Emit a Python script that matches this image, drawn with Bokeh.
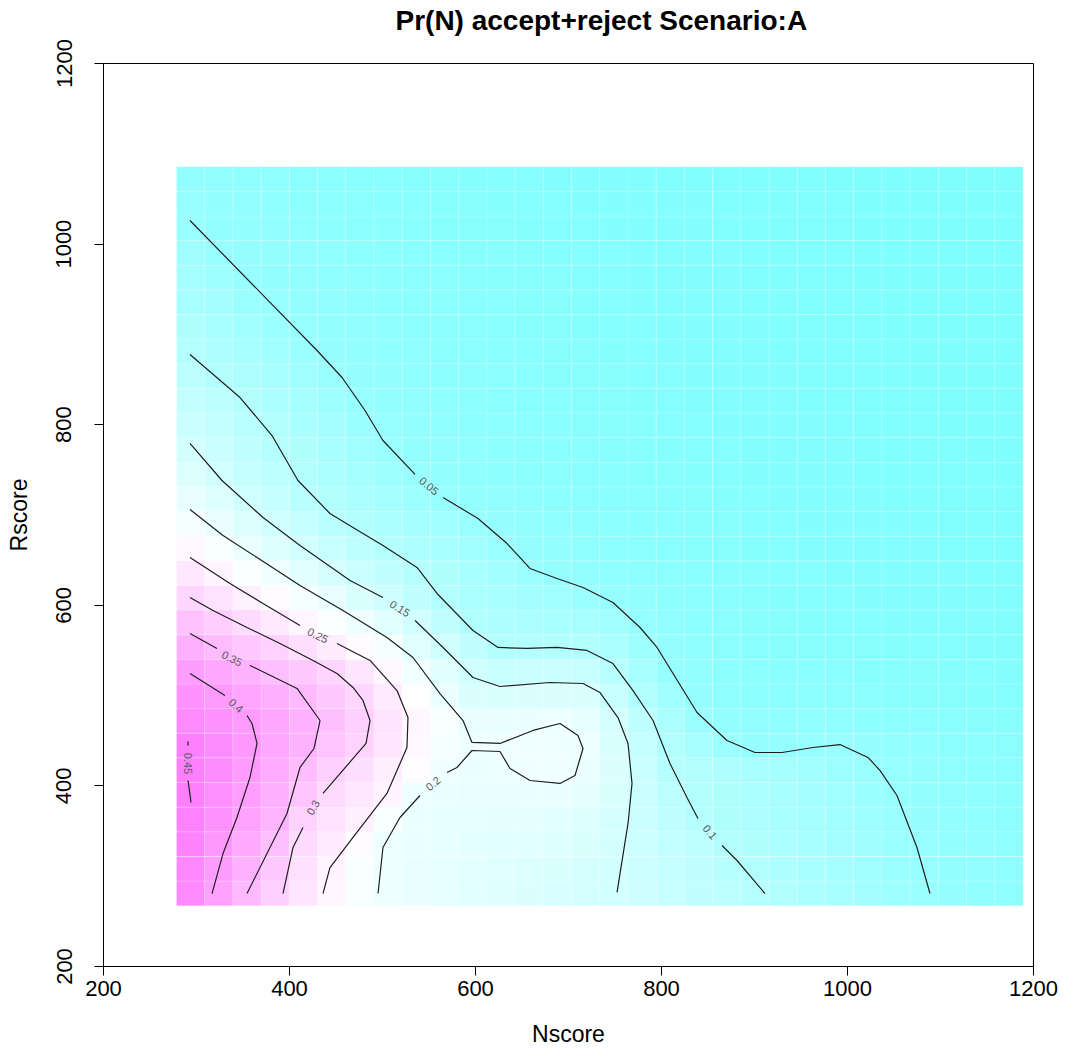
import math
import colorsys
from bokeh.plotting import figure
from bokeh.models import LinearColorMapper, FixedTicker, ColumnDataSource, Title
from bokeh.transform import transform
from bokeh.embed import file_html
from bokeh.resources import INLINE
from bokeh.core.properties import value

NAN = float("nan")

# ---- grid (cell centres) ----
NSCORE = [293.7, 324.0, 354.4, 384.7, 415.1, 445.4, 475.7, 506.1, 536.4, 566.8,
          597.1, 627.4, 657.8, 688.1, 718.5, 748.8, 779.1, 809.5, 839.8, 870.2,
          900.5, 930.8, 961.2, 991.5, 1021.9, 1052.2, 1082.5, 1112.9, 1143.2, 1173.6]
RSCORE = [281.0, 308.3, 335.6, 362.8, 390.1, 417.4, 444.7, 472.0, 499.2, 526.5,
          553.8, 581.1, 608.4, 635.6, 662.9, 690.2, 717.5, 744.8, 772.0, 799.3,
          826.6, 853.9, 881.2, 908.4, 935.7, 963.0, 990.3, 1017.6, 1044.8, 1072.1]

# ---- Pr(N), one row per Rscore value (bottom to top) ----
PROB = [
 [0.432,0.390,0.349,0.310,0.274,0.242,0.216,0.198,0.192,0.186,0.180,0.174,0.168,0.162,0.156,0.151,0.142,0.132,0.122,0.113,0.104,0.094,0.086,0.078,0.069,0.060,0.052,0.045,0.040,0.036],
 [0.438,0.400,0.364,0.322,0.282,0.247,0.220,0.198,0.192,0.187,0.181,0.175,0.169,0.163,0.157,0.151,0.141,0.130,0.118,0.107,0.097,0.089,0.081,0.073,0.065,0.058,0.050,0.044,0.039,0.035],
 [0.444,0.410,0.377,0.342,0.292,0.265,0.234,0.199,0.193,0.188,0.182,0.179,0.177,0.172,0.164,0.155,0.141,0.126,0.111,0.098,0.091,0.084,0.077,0.070,0.062,0.055,0.048,0.043,0.038,0.034],
 [0.448,0.418,0.388,0.359,0.309,0.279,0.256,0.217,0.196,0.190,0.186,0.185,0.185,0.180,0.170,0.157,0.140,0.120,0.100,0.093,0.087,0.080,0.073,0.066,0.059,0.052,0.046,0.041,0.037,0.033],
 [0.451,0.424,0.397,0.367,0.331,0.292,0.270,0.247,0.201,0.193,0.192,0.192,0.194,0.195,0.185,0.165,0.140,0.114,0.097,0.090,0.084,0.077,0.070,0.064,0.057,0.050,0.044,0.039,0.035,0.032],
 [0.452,0.428,0.403,0.375,0.345,0.312,0.284,0.258,0.231,0.203,0.197,0.198,0.203,0.204,0.197,0.168,0.137,0.103,0.094,0.087,0.080,0.073,0.067,0.060,0.053,0.047,0.042,0.037,0.033,0.030],
 [0.451,0.429,0.407,0.384,0.360,0.332,0.304,0.272,0.240,0.215,0.201,0.202,0.204,0.204,0.199,0.166,0.130,0.095,0.076,0.058,0.046,0.046,0.048,0.050,0.045,0.040,0.037,0.033,0.030,0.028],
 [0.434,0.418,0.402,0.382,0.362,0.338,0.310,0.276,0.242,0.217,0.192,0.194,0.197,0.199,0.190,0.156,0.117,0.083,0.057,0.044,0.038,0.036,0.036,0.036,0.033,0.030,0.027,0.025,0.023,0.021],
 [0.417,0.404,0.386,0.368,0.349,0.324,0.300,0.264,0.230,0.197,0.168,0.163,0.167,0.168,0.164,0.134,0.095,0.066,0.045,0.037,0.032,0.030,0.029,0.029,0.027,0.025,0.023,0.021,0.019,0.018],
 [0.399,0.380,0.361,0.342,0.322,0.302,0.272,0.241,0.208,0.176,0.147,0.132,0.135,0.135,0.133,0.107,0.079,0.051,0.040,0.033,0.029,0.026,0.025,0.024,0.023,0.022,0.020,0.019,0.017,0.016],
 [0.367,0.347,0.327,0.308,0.285,0.260,0.235,0.210,0.179,0.148,0.122,0.098,0.098,0.098,0.095,0.086,0.061,0.045,0.036,0.030,0.026,0.023,0.022,0.021,0.020,0.019,0.018,0.017,0.016,0.015],
 [0.335,0.314,0.291,0.267,0.244,0.222,0.202,0.177,0.150,0.121,0.096,0.088,0.084,0.082,0.077,0.066,0.047,0.038,0.031,0.027,0.023,0.021,0.019,0.018,0.017,0.016,0.015,0.015,0.014,0.013],
 [0.300,0.278,0.255,0.234,0.213,0.191,0.166,0.143,0.120,0.098,0.086,0.077,0.069,0.064,0.057,0.046,0.040,0.033,0.028,0.024,0.021,0.019,0.018,0.017,0.016,0.015,0.014,0.013,0.013,0.012],
 [0.269,0.246,0.224,0.204,0.180,0.156,0.137,0.120,0.103,0.090,0.079,0.067,0.055,0.046,0.040,0.036,0.032,0.028,0.025,0.022,0.020,0.018,0.017,0.016,0.015,0.014,0.013,0.013,0.012,0.011],
 [0.240,0.219,0.196,0.173,0.150,0.133,0.116,0.100,0.088,0.077,0.066,0.054,0.046,0.041,0.036,0.032,0.029,0.026,0.023,0.021,0.019,0.017,0.016,0.015,0.014,0.013,0.013,0.012,0.011,0.011],
 [0.215,0.192,0.169,0.147,0.129,0.110,0.095,0.085,0.075,0.064,0.054,0.046,0.040,0.036,0.032,0.029,0.026,0.024,0.022,0.020,0.018,0.017,0.015,0.014,0.014,0.013,0.012,0.011,0.011,0.010],
 [0.192,0.170,0.147,0.128,0.109,0.094,0.083,0.073,0.061,0.050,0.043,0.038,0.034,0.031,0.028,0.026,0.024,0.022,0.020,0.019,0.017,0.016,0.015,0.014,0.013,0.012,0.012,0.011,0.010,0.010],
 [0.173,0.149,0.130,0.112,0.096,0.084,0.073,0.061,0.049,0.042,0.037,0.033,0.030,0.028,0.026,0.024,0.022,0.021,0.019,0.018,0.016,0.015,0.014,0.013,0.012,0.012,0.011,0.010,0.010,0.009],
 [0.154,0.136,0.119,0.103,0.090,0.077,0.064,0.052,0.044,0.038,0.034,0.031,0.028,0.026,0.024,0.022,0.021,0.019,0.018,0.017,0.016,0.014,0.013,0.013,0.012,0.011,0.010,0.010,0.009,0.009],
 [0.140,0.125,0.109,0.095,0.082,0.069,0.056,0.047,0.041,0.036,0.032,0.029,0.027,0.025,0.023,0.021,0.020,0.018,0.017,0.016,0.015,0.014,0.013,0.012,0.011,0.011,0.010,0.009,0.009,0.008],
 [0.126,0.112,0.098,0.086,0.074,0.061,0.049,0.043,0.038,0.034,0.031,0.028,0.026,0.024,0.022,0.020,0.019,0.018,0.016,0.015,0.014,0.013,0.012,0.012,0.011,0.010,0.010,0.009,0.008,0.008],
 [0.112,0.098,0.087,0.076,0.065,0.053,0.046,0.041,0.036,0.033,0.030,0.027,0.025,0.023,0.021,0.020,0.018,0.017,0.016,0.015,0.014,0.013,0.012,0.011,0.010,0.010,0.009,0.009,0.008,0.008],
 [0.099,0.088,0.077,0.066,0.055,0.046,0.041,0.037,0.034,0.031,0.028,0.026,0.024,0.022,0.020,0.019,0.018,0.016,0.015,0.014,0.013,0.012,0.012,0.011,0.010,0.010,0.009,0.008,0.008,0.007],
 [0.090,0.079,0.068,0.057,0.047,0.042,0.038,0.035,0.032,0.029,0.027,0.025,0.023,0.021,0.019,0.018,0.017,0.016,0.015,0.014,0.013,0.012,0.011,0.010,0.010,0.009,0.009,0.008,0.008,0.007],
 [0.080,0.069,0.058,0.048,0.043,0.039,0.036,0.033,0.030,0.028,0.026,0.024,0.022,0.020,0.019,0.018,0.016,0.015,0.014,0.013,0.012,0.012,0.011,0.010,0.010,0.009,0.009,0.008,0.008,0.007],
 [0.071,0.060,0.049,0.044,0.040,0.037,0.034,0.031,0.029,0.027,0.025,0.023,0.021,0.020,0.018,0.017,0.016,0.015,0.014,0.013,0.012,0.011,0.011,0.010,0.009,0.009,0.008,0.008,0.007,0.007],
 [0.062,0.051,0.046,0.042,0.038,0.035,0.032,0.029,0.027,0.025,0.023,0.022,0.020,0.019,0.018,0.017,0.016,0.015,0.014,0.013,0.012,0.011,0.011,0.010,0.009,0.009,0.008,0.008,0.007,0.007],
 [0.052,0.044,0.041,0.038,0.035,0.032,0.029,0.027,0.025,0.023,0.021,0.020,0.019,0.018,0.017,0.016,0.015,0.014,0.013,0.012,0.012,0.011,0.010,0.010,0.009,0.009,0.008,0.008,0.007,0.007],
 [0.047,0.042,0.039,0.036,0.033,0.030,0.028,0.026,0.024,0.022,0.020,0.019,0.018,0.017,0.016,0.015,0.014,0.013,0.013,0.012,0.011,0.011,0.010,0.010,0.009,0.009,0.008,0.008,0.007,0.007],
 [0.044,0.040,0.037,0.034,0.031,0.028,0.026,0.024,0.022,0.021,0.019,0.018,0.017,0.016,0.015,0.014,0.013,0.012,0.012,0.011,0.011,0.010,0.010,0.009,0.009,0.008,0.008,0.007,0.007,0.006],
]

# ---- contour lines (Nscore, Rscore); NaN = label gap ----
LEVEL_LABELS = ["0.05", "0.1", "0.15", "0.2", "0.25", "0.3", "0.35", "0.4", "0.45"]

C05_X = [293.0, 429.6, 456.5, 481.2, 500.5, 535.0, NAN, 565.1, 602.7, 633.9, 658.6, 687.6, 715.6, 747.8, 776.9, 795.2, 838.2, 870.4, 900.5, 929.6, 962.9, 991.9, 1022.0, 1034.9, 1053.2, 1074.7, 1088.7]
C05_Y = [1026.1, 882.2, 852.3, 815.7, 782.5, 744.9, NAN, 719.4, 696.1, 668.4, 640.8, 629.7, 619.7, 603.1, 575.4, 553.3, 481.3, 450.3, 437.0, 437.0, 442.5, 445.8, 431.5, 417.1, 389.4, 331.8, 280.8]
C10_X = [293.0, 346.8, 381.2, 409.1, 443.5, 468.3, 500.5, 537.1, 558.6, 597.3, 624.2, 655.4, 687.6, 719.9, 747.8, 769.4, 790.9, 809.1, 827.4, 839.2, NAN, 865.1, 881.2, 911.3]
C10_Y = [877.7, 830.1, 788.0, 738.2, 701.7, 686.2, 666.3, 641.9, 613.1, 572.1, 553.3, 552.2, 553.3, 550.0, 535.5, 505.6, 472.4, 424.8, 387.2, 363.9, NAN, 334.0, 317.4, 280.8]
C15_X = [293.0, 327.4, 371.5, 411.3, 465.1, 500.5, NAN, 535.0, 565.1, 597.3, 626.3, 680.1, 715.6, 733.9, 753.2, 764.0, 768.3, 764.0, 752.2]
C15_Y = [779.2, 738.2, 697.2, 666.2, 627.5, 608.6, NAN, 583.2, 553.3, 520.0, 510.1, 514.5, 513.4, 503.4, 475.7, 447.0, 402.7, 358.4, 282.0]
C20_X = [293.0, 328.5, 365.1, 411.3, 457.5, 504.8, 532.8, 561.8, 586.6, 596.2, 626.3, 661.8, 690.9, 710.2, 715.6, 707.0, 690.9, 658.6, 637.1, 626.3, 596.2, 580.1, 569.4, NAN, 540.3, 518.8, 500.5, 495.2]
C20_Y = [706.1, 677.3, 652.9, 621.9, 594.2, 564.3, 542.2, 502.3, 472.4, 448.1, 447.0, 461.4, 469.1, 455.8, 441.4, 411.5, 402.7, 406.0, 419.3, 438.1, 439.2, 420.4, 414.8, NAN, 389.4, 365.0, 331.8, 280.8]
C25_X = [293.0, 336.0, 371.5, 411.3, NAN, 451.1, 486.6, 515.6, 527.4, 526.3, 504.8, 468.3, 443.5, 436.0]
C25_Y = [652.9, 624.1, 602.0, 577.6, NAN, 557.7, 538.9, 505.6, 475.7, 442.5, 391.6, 342.9, 309.6, 280.8]
C30_X = [293.0, 317.7, 354.3, 389.8, 425.3, 451.1, 468.3, 479.0, 486.6, 482.3, 454.3, 436.0, NAN, 414.5, 403.8, 393.0]
C30_Y = [608.6, 594.2, 575.4, 557.7, 538.9, 524.5, 509.0, 494.6, 472.4, 447.0, 413.7, 391.6, NAN, 353.9, 331.8, 280.8]
C35_X = [293.0, 322.0, NAN, 357.5, 408.1, 432.8, 426.3, 411.3, 397.3, 375.8, 354.3]
C35_Y = [568.8, 552.2, NAN, 533.4, 507.9, 472.4, 441.4, 420.4, 369.4, 325.1, 280.8]
C40_X = [293.0, 330.6, NAN, 354.3, 359.7, 365.1, 357.5, 343.5, 328.5, 316.7]
C40_Y = [524.5, 500.2, NAN, 478.0, 469.1, 447.0, 409.3, 365.0, 325.1, 280.8]
C45_X = [290.9, 290.9, NAN, 290.9, 294.1]
C45_Y = [449.2, 444.7, NAN, 406.0, 381.6]

# label anchor on each contour (Nscore, Rscore) and text direction (deg)
LABEL_N = [550.0, 852.2, 518.8, 554.3, 430.6, 425.3, 338.2, 342.5, 290.9]
LABEL_R = [732.2, 349.0, 596.5, 402.7, 566.6, 376.1, 541.1, 489.0, 424.8]
LABEL_ANGLE = [-39, -50, -32, 40, -26, 60, -27, -42, -90]

X_TICKS = [200, 400, 600, 800, 1000, 1200]
Y_TICKS = [200, 400, 600, 800, 1000, 1200]

TITLE = "Pr(N) accept+reject Scenario:A"


def cm_colors(n):
    even = (n % 2 == 0)
    k = n // 2
    l1 = k + 1 - int(even)
    l2 = n - k + int(even)
    out = []
    s_end = 0.5 / k if even else 0.0
    for i in range(l1):
        s = 0.5 + (s_end - 0.5) * (i / (l1 - 1) if l1 > 1 else 0)
        r, g, b = colorsys.hsv_to_rgb(6 / 12, s, 1.0)
        out.append("#%02x%02x%02x" % (round(r * 255), round(g * 255), round(b * 255)))
    for i in range(1, l2):
        s = 0.5 * i / (l2 - 1)
        r, g, b = colorsys.hsv_to_rgb(10 / 12, s, 1.0)
        out.append("#%02x%02x%02x" % (round(r * 255), round(g * 255), round(b * 255)))
    return out


xs, ys, zs = [], [], []
for j, rs in enumerate(RSCORE):
    for i, ns in enumerate(NSCORE):
        xs.append(ns)
        ys.append(rs)
        zs.append(PROB[j][i])
zmin, zmax = min(zs), max(zs)
cell_w = (NSCORE[-1] - NSCORE[0]) / (len(NSCORE) - 1)
cell_h = (RSCORE[-1] - RSCORE[0]) / (len(RSCORE) - 1)

mapper = LinearColorMapper(palette=cm_colors(256), low=zmin, high=zmax)

FONT = "Liberation Sans"
p = figure(width=1066, height=1056, x_range=(200, 1200), y_range=(200, 1200),
           output_backend="svg", toolbar_location=None,
           min_border_left=103, min_border_right=33, min_border_top=63, min_border_bottom=90)

src = ColumnDataSource(dict(x=xs, y=ys, z=zs))
p.rect(x="x", y="y", width=cell_w, height=cell_h, source=src,
       fill_color=transform("z", mapper), line_color="white", line_alpha=0.22, line_width=0.8)

contours = [(C05_X, C05_Y), (C10_X, C10_Y), (C15_X, C15_Y), (C20_X, C20_Y), (C25_X, C25_Y),
            (C30_X, C30_Y), (C35_X, C35_Y), (C40_X, C40_Y), (C45_X, C45_Y)]
for cx, cy in contours:
    p.line(cx, cy, line_color="#1e1e1e", line_width=1.2)

lab_src = ColumnDataSource(dict(x=LABEL_N, y=LABEL_R, t=LEVEL_LABELS,
                                a=[math.radians(a) for a in LABEL_ANGLE]))
p.text(x="x", y="y", text="t", angle="a", source=lab_src, text_font=value(FONT),
       text_font_size="11px", text_color="#5a5a5a", text_align="center", text_baseline="middle")

p.grid.visible = False
p.background_fill_color = "white"
p.border_fill_color = "white"
p.outline_line_color = "black"
p.outline_line_width = 1

# spacer panel between frame and title (keeps title high in the top margin)
p.add_layout(Title(text=" ", text_font_size="8px", standoff=15), "above")

p.title.text = TITLE
p.title.align = "left"
p.title.offset = 292
p.title.vertical_align = "bottom"
p.title.text_color = "black"
p.title.text_font = FONT
p.title.text_font_size = "28px"
p.title.text_font_style = "bold"
p.title.standoff = 4

for ax, ticks, lab in ((p.xaxis[0], X_TICKS, "Nscore"), (p.yaxis[0], Y_TICKS, "Rscore")):
    ax.ticker = FixedTicker(ticks=ticks)
    ax.axis_label = lab
    ax.axis_label_text_font = FONT
    ax.axis_label_text_font_size = "23px"
    ax.axis_label_text_font_style = "normal"
    ax.axis_label_text_color = "black"
    ax.major_label_text_font = FONT
    ax.major_label_text_font_size = "22px"
    ax.major_label_text_color = "black"
    ax.axis_line_color = "black"
    ax.major_tick_line_color = "black"
    ax.major_tick_out = 9
    ax.major_tick_in = 0
    ax.minor_tick_line_color = None

p.xaxis[0].major_label_standoff = 5
p.xaxis[0].axis_label_standoff = 22
p.yaxis[0].major_label_orientation = "vertical"
p.yaxis[0].major_label_standoff = 23
p.yaxis[0].axis_label_standoff = 22

open("out.html", "w").write(file_html(p, INLINE))
